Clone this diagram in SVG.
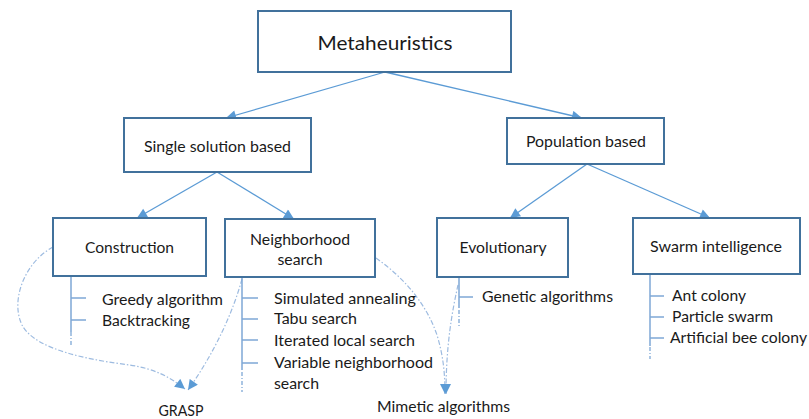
<svg xmlns="http://www.w3.org/2000/svg" width="809" height="419" viewBox="0 0 809 419">
<style>
.box{fill:#fff;stroke:#41719C;stroke-width:2}
.t{font-family:Lato,"Liberation Sans",sans-serif;font-size:15px;fill:#1a1a1a}
.tc{text-anchor:middle}
.conn{stroke:#5B9BD5;stroke-width:1.3;fill:none}
.list{stroke:#7FA8D6;stroke-width:1.5;fill:none}
.ldash{stroke:#7FA8D6;stroke-width:1.3;fill:none;stroke-dasharray:4 2 1 2}
.dd{stroke:#9DBBE0;stroke-width:1.2;fill:none;stroke-dasharray:5 2 1.5 2}
</style>
<defs>
<marker id="ah" viewBox="0 0 10 10" refX="10" refY="5" markerWidth="11" markerHeight="10" markerUnits="userSpaceOnUse" orient="auto">
<path d="M0,0 L10,5 L0,10 z" fill="#5B9BD5"/>
</marker>
</defs>
<rect width="809" height="419" fill="#fff"/>

<g id="connectors">
<line class="conn" x1="385" y1="72" x2="226" y2="118" marker-end="url(#ah)"/>
<line class="conn" x1="385" y1="72" x2="582" y2="118" marker-end="url(#ah)"/>
<line class="conn" x1="217" y1="172" x2="137" y2="218" marker-end="url(#ah)"/>
<line class="conn" x1="217" y1="172" x2="294" y2="219" marker-end="url(#ah)"/>
<line class="conn" x1="587" y1="164" x2="510" y2="218" marker-end="url(#ah)"/>
<line class="conn" x1="587" y1="164" x2="710" y2="218" marker-end="url(#ah)"/>

<path class="dd" d="M53 247 C25 262,10 300,22 325 C35 350,90 360,130 365 C155 369,170 377,185 389" marker-end="url(#ah)"/>
<path class="dd" d="M242 279 C233 312,215 352,188 390" marker-end="url(#ah)"/>
<path class="dd" d="M376 258 C400 275,425 300,437 335 C443 355,445 372,445 394" marker-end="url(#ah)"/>
<path class="dd" d="M458 285 C452 312,446 345,446 394" marker-end="url(#ah)"/>
</g>

<g id="metaheuristics">
<rect class="box" x="258" y="11" width="253" height="61"/>
<text class="t tc" x="385" y="50" style="font-size:20px" textLength="135" lengthAdjust="spacingAndGlyphs">Metaheuristics</text>
</g>

<g id="single">
<rect class="box" x="124" y="118" width="187" height="54"/>
<text class="t tc" x="217.5" y="152" textLength="147" lengthAdjust="spacingAndGlyphs">Single solution based</text>
</g>

<g id="population">
<rect class="box" x="507" y="118" width="157" height="46"/>
<text class="t tc" x="586" y="147" textLength="120" lengthAdjust="spacingAndGlyphs">Population based</text>
</g>

<g id="construction">
<rect class="box" x="53" y="218" width="153" height="58"/>
<text class="t tc" x="129.5" y="253" textLength="89" lengthAdjust="spacingAndGlyphs">Construction</text>
<path class="list" d="M71 277 V332 M71 298 H86 M71 320 H86"/>
<path class="ldash" d="M71 332 V347"/>
<text class="t" x="102" y="305" textLength="121" lengthAdjust="spacingAndGlyphs">Greedy algorithm</text>
<text class="t" x="102" y="326" textLength="88" lengthAdjust="spacingAndGlyphs">Backtracking</text>
</g>

<g id="neighborhood">
<rect class="box" x="225" y="219" width="150" height="58"/>
<text class="t tc" x="300" y="245" textLength="100" lengthAdjust="spacingAndGlyphs">Neighborhood</text>
<text class="t tc" x="300" y="265" textLength="45" lengthAdjust="spacingAndGlyphs">search</text>
<path class="list" d="M242 278 V370 M242 298 H258 M242 319 H258 M242 340 H258 M242 363 H258"/>
<path class="ldash" d="M242 372 V392"/>
<text class="t" x="274" y="304" textLength="142" lengthAdjust="spacingAndGlyphs">Simulated annealing</text>
<text class="t" x="274" y="324" textLength="83" lengthAdjust="spacingAndGlyphs">Tabu search</text>
<text class="t" x="274" y="346" textLength="141" lengthAdjust="spacingAndGlyphs">Iterated local search</text>
<text class="t" x="274" y="368" textLength="159" lengthAdjust="spacingAndGlyphs">Variable neighborhood</text>
<text class="t" x="274" y="389" textLength="45" lengthAdjust="spacingAndGlyphs">search</text>
</g>

<g id="evolutionary">
<rect class="box" x="437" y="218" width="131" height="59"/>
<text class="t tc" x="503" y="253" textLength="87" lengthAdjust="spacingAndGlyphs">Evolutionary</text>
<path class="list" d="M459 278 V308 M459 297 H473"/>
<path class="ldash" d="M459 310 V328"/>
<text class="t" x="482" y="302" textLength="131" lengthAdjust="spacingAndGlyphs">Genetic algorithms</text>
</g>

<g id="swarm">
<rect class="box" x="633" y="218" width="167" height="56"/>
<text class="t tc" x="716" y="252" textLength="132" lengthAdjust="spacingAndGlyphs">Swarm intelligence</text>
<path class="list" d="M650 275 V346 M650 296 H664 M650 317 H664 M650 338 H664"/>
<path class="ldash" d="M650 347 V359"/>
<text class="t" x="672" y="301" textLength="74" lengthAdjust="spacingAndGlyphs">Ant colony</text>
<text class="t" x="672" y="322" textLength="101" lengthAdjust="spacingAndGlyphs">Particle swarm</text>
<text class="t" x="670" y="343" textLength="137" lengthAdjust="spacingAndGlyphs">Artificial bee colony</text>
</g>

<g id="grasp">
<text class="t tc" x="181" y="416" textLength="45" lengthAdjust="spacingAndGlyphs">GRASP</text>
</g>

<g id="mimetic">
<text class="t tc" x="443.5" y="412" textLength="133" lengthAdjust="spacingAndGlyphs">Mimetic algorithms</text>
</g>
</svg>
